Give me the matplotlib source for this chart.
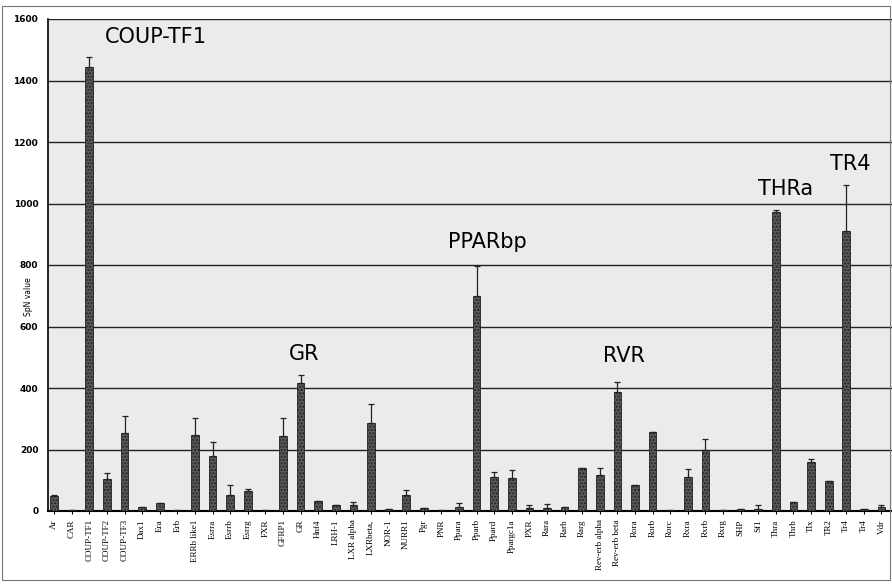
import matplotlib.pyplot as plt
from matplotlib.patches import Rectangle

# receptor names along the x axis
receptors = ['Ar', 'CAR', 'COUP-TF1', 'COUP-TF2', 'COUP-TF3', 'Dax1', 'Era', 'Erb',
             'ERRb like1', 'Esrra', 'Esrrb', 'Esrrg', 'FXR', 'GFRP1', 'GR', 'Hnf4',
             'LRH-1', 'LXR alpha', 'LXRbeta,', 'NOR-1', 'NURR1', 'Pgr', 'PNR', 'Ppara',
             'Pparb', 'Ppard', 'Ppargc1a', 'PXR', 'Rara', 'Rarb', 'Rarg', 'Rev-erb alpha',
             'Rev-erb beta', 'Rora', 'Rorb', 'Rorc', 'Rxra', 'Rxrb', 'Rxrg', 'SHP', 'Sf1',
             'Thra', 'Thrb', 'Tlx', 'TR2', 'Tr4', 'Tr4', 'Vdr']

# mean SpN value per receptor
spn = [48, 3, 1444, 104, 254, 14, 27, 3,
       247, 179, 52, 65, 4, 244, 416, 32,
       18, 20, 286, 8, 52, 10, 2, 13,
       700, 110, 107, 10, 10, 13, 140, 117,
       387, 85, 257, 3, 110, 198, 4, 5, 8,
       972, 30, 159, 98, 910, 7, 13]

# upper error (added on top of the bar)
err = [3, 0, 31, 20, 55, 0, 0, 0,
       55, 45, 33, 5, 0, 58, 26, 0,
       0, 10, 62, 0, 16, 0, 0, 12,
       97, 17, 26, 10, 13, 0, 0, 23,
       32, 0, 0, 0, 27, 36, 0, 0, 10,
       6, 0, 10, 0, 150, 0, 7]

yticks = [0, 200, 400, 600, 800, 1000, 1200, 1400, 1600]

# highlighted receptors: (label, x, y)
callouts = [('COUP-TF1', 2.9, 1541), ('GR', 13.35, 510), ('PPARbp', 22.4, 875),
            ('RVR', 31.2, 504), ('THRa', 40.0, 1047), ('TR4', 44.1, 1128)]

fig = plt.figure(figsize=(8.92, 5.86), dpi=100)
ax = fig.add_axes([48 / 892, 1 - 511 / 586, 1 - 48 / 892, (511 - 19) / 586])
ax.set_facecolor('#ebebeb')

x = list(range(len(receptors)))
ax.bar(x, spn, width=0.44, color='#5a5a5a', edgecolor='#222222', linewidth=0.6,
       hatch='.....', zorder=3)
ax.errorbar(x, spn, yerr=[[0] * len(err), err], fmt='none', ecolor='#222222',
            elinewidth=0.9, capsize=2.5, capthick=0.9, zorder=4)

ax.set_xlim(-0.35, 47.6)
ax.set_ylim(0, 1600)
ax.set_yticks(yticks)
ax.set_yticklabels([str(v) for v in yticks], fontsize=6.5, fontweight='bold')
ax.yaxis.grid(True, color='#222222', linewidth=1.0, zorder=1)
ax.set_axisbelow(True)
ax.tick_params(axis='y', length=0, pad=7)
# label sits in the tick label column, between the 800 and 600 ticks
ax.set_ylabel('SpN value', fontsize=5.5)
ax.yaxis.set_label_coords(-0.018, 0.435)

ax.set_xticks(x)
ax.set_xticklabels(receptors, rotation=90, fontsize=6.5, family='Liberation Serif')
ax.tick_params(axis='x', length=2, pad=4)

for side in ['top', 'right']:
    ax.spines[side].set_visible(False)
ax.spines['left'].set_linewidth(1.2)
ax.spines['bottom'].set_linewidth(1.5)

for label, lx, ly in callouts:
    ax.text(lx, ly, label, fontsize=15, ha='left', va='center', zorder=5)

# scanned page frame
fig.patches.append(Rectangle((2 / 892, 6 / 586), 888 / 892, 574 / 586,
                             transform=fig.transFigure, fill=False,
                             edgecolor='#777777', linewidth=0.8))

fig.savefig('out.png', dpi=100)
